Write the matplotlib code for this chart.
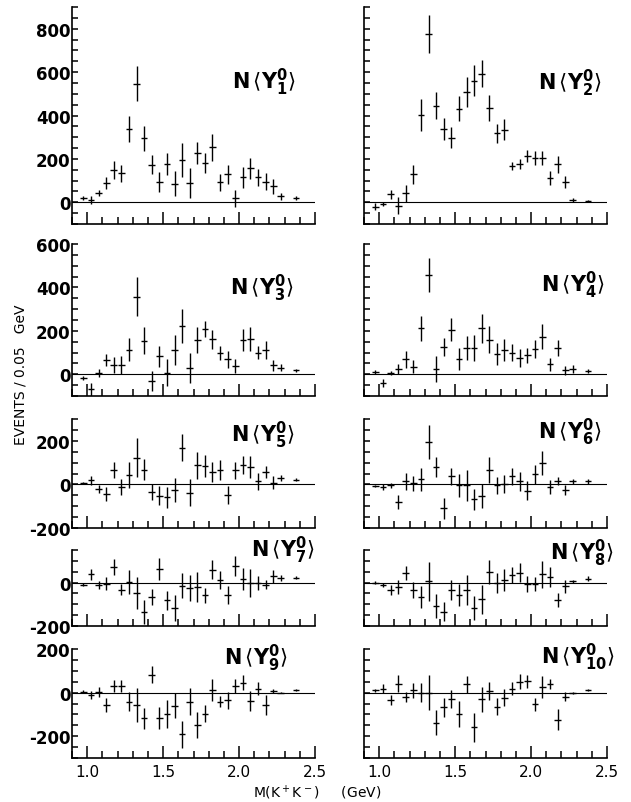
import numpy as np
import matplotlib.pyplot as plt
from matplotlib.ticker import MultipleLocator

plt.rcParams['axes.unicode_minus'] = False
plt.rcParams['mathtext.fontset'] = 'dejavusans'

# bin centres, M(K+K-) in GeV (0.05 GeV bins, last bin at 2.375)
mass = [0.975, 1.025, 1.075, 1.125, 1.175, 1.225, 1.275, 1.325, 1.375, 1.425,
        1.475, 1.525, 1.575, 1.625, 1.675, 1.725, 1.775, 1.825, 1.875, 1.925,
        1.975, 2.025, 2.075, 2.125, 2.175, 2.225, 2.275, 2.375]

# N<Y_L^0> moments, events / 0.05 GeV, with errors
y1 = [20, 11, 43, 88, 149, 134, 338, 546, 295, 174, 92, 177, 85, 195, 89, 228,
      182, 254, 92, 129, 18, 115, 157, 115, 95, 74, 28, 20]
e1 = [10, 20, 15, 27, 40, 40, 60, 80, 57, 42, 46, 50, 58, 77, 70, 50,
      45, 63, 40, 45, 38, 48, 48, 40, 38, 35, 17, 8]

y2 = [-20, -8, 37, -15, 42, 129, 403, 777, 445, 338, 298, 431, 508, 561, 592, 434,
      318, 334, 168, 177, 214, 203, 203, 111, 175, 92, 11, 6]
e2 = [15, 8, 20, 38, 40, 45, 75, 87, 62, 50, 49, 58, 70, 73, 62, 60,
      44, 49, 19, 23, 27, 32, 32, 31, 38, 27, 10, 5]

y3 = [-18, -69, 5, 66, 43, 43, 114, 358, 154, -31, 82, 8, 111, 223, 28, 158,
      208, 161, 98, 69, 38, 157, 161, 100, 111, 42, 31, 18]
e3 = [10, 30, 19, 27, 37, 40, 51, 90, 62, 45, 50, 62, 70, 77, 69, 58,
      38, 44, 33, 40, 31, 50, 55, 31, 40, 26, 17, 6]

y4 = [11, -41, 5, 23, 69, 35, 211, 458, 23, 125, 206, 72, 122, 122, 211, 160,
      92, 111, 99, 76, 87, 118, 173, 46, 122, 18, 23, 15]
e4 = [8, 18, 10, 23, 40, 30, 59, 79, 60, 40, 51, 51, 56, 61, 65, 63,
      50, 50, 40, 41, 36, 42, 57, 31, 38, 19, 19, 8]

y5 = [8, 19, -20, -43, 65, -12, 45, 122, 68, -36, -51, -59, -25, 169, -39, 88,
      84, 57, 65, -48, 65, 88, 81, 14, 57, 8, 29, 22]
e5 = [5, 20, 19, 33, 37, 35, 60, 89, 50, 37, 45, 47, 56, 60, 62, 62,
      49, 48, 47, 41, 40, 41, 51, 39, 27, 29, 15, 8]

y6 = [-8, -12, -5, -82, 14, 6, 23, 195, 80, -109, 37, -5, -5, -69, -54, 65,
      -5, 3, 37, 14, -28, 46, 98, -12, 15, -25, 14, 14]
e6 = [6, 15, 10, 33, 38, 34, 52, 79, 46, 48, 38, 52, 71, 50, 54, 60,
      40, 41, 38, 42, 42, 42, 56, 32, 19, 22, 13, 10]

y7 = [-9, 38, -12, -5, 72, -32, 3, -48, -135, -66, 62, -82, -117, -15, -25, -20,
      -58, 60, 11, -58, 77, 18, -2, -2, -9, 29, 22, 23]
e7 = [8, 25, 19, 31, 38, 25, 54, 75, 55, 35, 51, 45, 59, 58, 61, 69,
      34, 42, 42, 42, 46, 50, 63, 32, 22, 29, 13, 8]

y8 = [0, -12, -35, -20, 46, -35, -66, 5, -108, -134, -35, -57, -35, -118, -77, 49,
      -3, 11, 34, 46, -8, -8, 38, 26, -80, -18, 5, 18]
e8 = [5, 10, 23, 31, 32, 36, 50, 88, 56, 45, 45, 49, 69, 55, 66, 56,
      45, 50, 37, 42, 36, 33, 63, 48, 34, 31, 8, 13]

y9 = [5, -11, 3, -56, 30, 30, -41, -56, -117, 83, -117, -98, -61, -192, -42, -148,
      -98, 11, -41, -35, 30, 45, -38, 18, -58, 8, 0, 12]
e9 = [8, 17, 23, 33, 27, 29, 42, 77, 48, 40, 49, 64, 57, 63, 63, 61,
      39, 50, 27, 39, 33, 34, 45, 29, 47, 8, 3, 5]

y10 = [11, 18, -33, 41, -20, 11, 0, 0, -139, -68, -30, -98, 38, -159, -30, 8,
       -65, -23, 18, 50, 53, -53, 26, 38, -124, -18, 0, 12]
e10 = [6, 20, 24, 38, 23, 34, 45, 82, 57, 45, 40, 58, 39, 67, 57, 42,
       38, 39, 29, 34, 30, 30, 51, 23, 49, 19, 5, 5]

values = [y1, y2, y3, y4, y5, y6, y7, y8, y9, y10]
errors = [e1, e2, e3, e4, e5, e6, e7, e8, e9, e10]

# per row: y range and labelled ticks
row_ylim = [(-100, 900), (-100, 600), (-200, 300), (-200, 150), (-300, 200)]
row_yticks = [[0, 200, 400, 600, 800], [0, 200, 400, 600], [-200, 0, 200],
              [-200, 0], [-200, 0, 200]]

W, H = 631, 803
fig = plt.figure(figsize=(W / 100, H / 100), dpi=100)

# axes boxes in pixels (top, bottom) for each row
row_px = [(8, 225), (245, 397), (420, 529), (551, 627), (650, 759)]
col_px = [(72, 243), (364, 243)]

# title centres in pixels
title_px = [(264, 82), (570, 83), (262, 288), (573, 285), (263, 435),
            (570, 432), (283, 550), (582, 553), (256, 658), (578, 657)]

for k in range(10):
    r, c = k // 2, k % 2
    top, bot = row_px[r]
    left, width = col_px[c]
    ax = fig.add_axes([left / W, 1 - bot / H, width / W, (bot - top) / H])

    ax.errorbar(mass, values[k], yerr=errors[k], xerr=0.022, fmt='none',
                ecolor='black', elinewidth=1.0, capsize=0)
    ax.axhline(0, color='black', lw=0.8)

    ax.set_xlim(0.9, 2.5)
    ax.set_ylim(*row_ylim[r])
    for s in ['top', 'right']:
        ax.spines[s].set_visible(False)
    for s in ['left', 'bottom']:
        ax.spines[s].set_linewidth(1.2)

    ax.xaxis.set_major_locator(MultipleLocator(0.5))
    ax.xaxis.set_minor_locator(MultipleLocator(0.1))
    ax.yaxis.set_major_locator(MultipleLocator(200))
    ax.yaxis.set_minor_locator(MultipleLocator(50))
    ax.tick_params(axis='x', which='major', direction='in', length=9, width=1.1)
    ax.tick_params(axis='x', which='minor', direction='in', length=5, width=1.1)
    ax.tick_params(axis='y', which='both', direction='in', length=4, width=1.1)

    if c == 0:
        ax.set_yticks(row_yticks[r])
        ax.set_yticklabels([str(t) for t in row_yticks[r]], fontsize=12,
                           fontweight='bold')
        ax.tick_params(axis='y', which='major', pad=1)
    else:
        ax.set_yticklabels([])
        ax.yaxis.set_major_locator(MultipleLocator(200))

    if r == 4:
        ax.set_xticks([1.0, 1.5, 2.0, 2.5])
        ax.set_xticklabels(['1.0', '1.5', '2.0', '2.5'], fontsize=11)
        ax.tick_params(axis='x', which='major', pad=4)
    else:
        ax.set_xticklabels([])

    L = k + 1
    txt = r'$\mathbf{N}\,\langle\mathbf{Y}^{\mathbf{0}}_{\mathbf{%d}}\rangle$' % L
    tx, ty = title_px[k]
    fig.text(tx / W, 1 - ty / H, txt, fontsize=15, ha='center', va='center')

fig.text(21 / W, 1 - 375 / H, 'EVENTS / 0.05   GeV', rotation=90,
         fontsize=10, ha='center', va='center')
fig.text(253 / W, 1 - 793 / H, r'M(K$^+$K$^-$)     (GeV)', fontsize=10,
         ha='left', va='center')

fig.savefig('out.png', dpi=100, facecolor='white')
